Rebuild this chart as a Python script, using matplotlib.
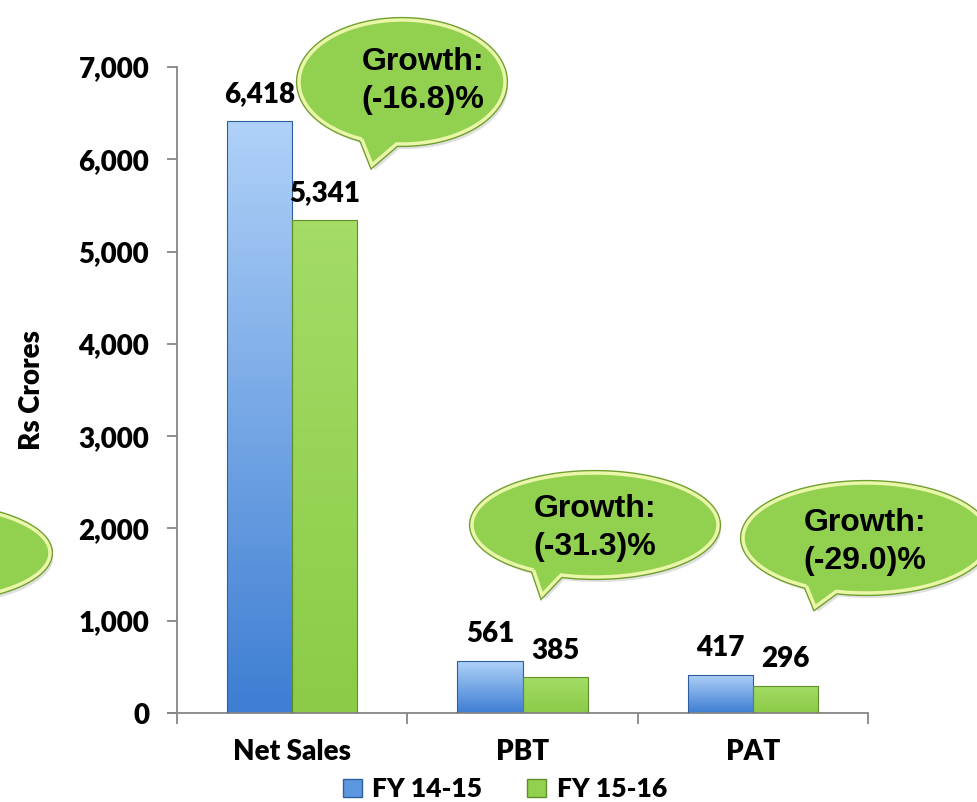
import numpy as np
import matplotlib
matplotlib.use('Agg')
import matplotlib.pyplot as plt
from matplotlib.patches import PathPatch, Patch
from matplotlib.path import Path
from matplotlib.font_manager import FontProperties

# data
categories = ['Net Sales', 'PBT', 'PAT']
fy_1415 = [6418, 561, 417]
fy_1516 = [5341, 385, 296]
series_names = ['FY 14-15', 'FY 15-16']
growth_labels = ['(-16.8)%', '(-31.3)%', '(-29.0)%']
yticks = [0, 1000, 2000, 3000, 4000, 5000, 6000, 7000]

LABEL_FP = FontProperties(family='Lato', weight='heavy', size=20)
LEGEND_FP = FontProperties(family='Lato', weight='heavy', size=19)
BUBBLE_FP = FontProperties(family='Liberation Sans', weight='bold', size=23)
BLUE_TOP, BLUE_BOT = '#AFD1F8', '#3E7ED3'
GREEN_TOP, GREEN_BOT = '#A4DC66', '#8CCB48'


def gradient_bar(ax, rect, top, bot):
    # vertical gradient clipped to the bar rectangle
    x0 = rect.get_x()
    x1 = x0 + rect.get_width()
    h = rect.get_height()
    c_top = np.array(matplotlib.colors.to_rgb(top))
    c_bot = np.array(matplotlib.colors.to_rgb(bot))
    t = np.linspace(0, 1, 64)[:, None]
    img = (c_top * (1 - t) + c_bot * t)[:, None, :]
    im = ax.imshow(img, extent=[x0, x1, 0, h], origin='upper', aspect='auto', zorder=2)
    im.set_clip_path(rect)


def bubble(ax, cx, cy, a, b, tip=None, t_from=None, t_to=None):
    if tip is None:
        ang = np.linspace(0, 2 * np.pi, 200)
        pts = np.column_stack([cx + a * np.cos(ang), cy + b * np.sin(ang)])
    else:
        ang = np.radians(np.linspace(t_from, t_to + 360, 200))
        pts = np.column_stack([cx + a * np.cos(ang), cy + b * np.sin(ang)])
        pts = np.vstack([pts, tip])
    pts = np.vstack([pts, pts[:1]])
    shadow = PathPatch(Path(pts + [3, 5]), facecolor='#000000', edgecolor='none', alpha=0.12, zorder=4)
    ax.add_patch(shadow)
    ax.add_patch(PathPatch(Path(pts), facecolor='none', edgecolor='#6F9F2E', lw=4.5, zorder=5))
    ax.add_patch(PathPatch(Path(pts), facecolor='#92D050', edgecolor='#EAF7A8', lw=2.5, zorder=6))


fig = plt.figure(figsize=(9.77, 8.02), dpi=100)
ax = fig.add_axes([177 / 977, 1 - 713 / 802, (868 - 177) / 977, (713 - 67) / 802])

x = np.arange(len(categories))
w = 0.283
bars1 = ax.bar(x - w / 2, fy_1415, w, facecolor='none', edgecolor='#2F5E9E', lw=0.8, zorder=3)
bars2 = ax.bar(x + w / 2, fy_1516, w, facecolor='none', edgecolor='#5E8F2A', lw=0.8, zorder=3)
for r in bars1:
    gradient_bar(ax, r, BLUE_TOP, BLUE_BOT)
for r in bars2:
    gradient_bar(ax, r, GREEN_TOP, GREEN_BOT)

for bars in (bars1, bars2):
    for r in bars:
        ax.annotate('{:,}'.format(int(r.get_height())),
                    (r.get_x() + r.get_width() / 2, r.get_height()),
                    xytext=(0, 10), textcoords='offset points', ha='center', va='bottom',
                    fontproperties=LABEL_FP)

ax.set_xlim(-0.5, 2.5)
ax.set_ylim(0, 7000)
ax.set_yticks(yticks)
ax.set_yticklabels(['{:,}'.format(v) for v in yticks], fontproperties=LABEL_FP)
ax.set_xticks(x)
ax.set_xticklabels(categories, fontproperties=LABEL_FP)
ax.set_xticks([-0.5, 0.5, 1.5, 2.5], minor=True)
ax.tick_params(axis='x', which='major', length=0, pad=19)
ax.tick_params(axis='x', which='minor', length=8, color='#868686', width=1.3)
ax.tick_params(axis='y', length=7, color='#868686', width=1.3, pad=13)
for s in ['top', 'right']:
    ax.spines[s].set_visible(False)
for s in ['left', 'bottom']:
    ax.spines[s].set_color('#868686')
    ax.spines[s].set_linewidth(1.3)
ax.spines['bottom'].set_bounds(-0.54, 2.5)
ax.set_ylabel('Rs Crores', fontproperties=LABEL_FP, labelpad=24)

handles = [Patch(facecolor='#5C98E0', edgecolor='#2F5E9E'),
           Patch(facecolor='#92D050', edgecolor='#5E8F2A')]
fig.legend(handles, series_names, loc='center', bbox_to_anchor=(0.517, 0.016), ncol=2,
           frameon=False, handlelength=0.7, handleheight=0.7, columnspacing=1.7, handletextpad=0.4,
           prop=LEGEND_FP)

# speech bubbles drawn in pixel space on an overlay
ov = fig.add_axes([0, 0, 1, 1], zorder=5)
ov.set_xlim(0, 977)
ov.set_ylim(802, 0)
ov.axis('off')
ov.patch.set_alpha(0)

bubble(ov, -75, 553, 125, 48)
bubble(ov, 402, 82, 103, 62, tip=(372, 165), t_from=113, t_to=93)
bubble(ov, 595, 525, 123, 52, tip=(542, 595), t_from=120, t_to=106)
bubble(ov, 866, 538, 123, 55, tip=(815, 607), t_from=119, t_to=104)

for (tx, ty), g in zip([(423, 81), (595, 528), (865, 542)], growth_labels):
    ov.text(tx, ty - 19, 'Growth:', ha='center', va='center', fontproperties=BUBBLE_FP, zorder=7)
    ov.text(tx, ty + 19, g, ha='center', va='center', fontproperties=BUBBLE_FP, zorder=7)

fig.savefig('out.png', dpi=100)
